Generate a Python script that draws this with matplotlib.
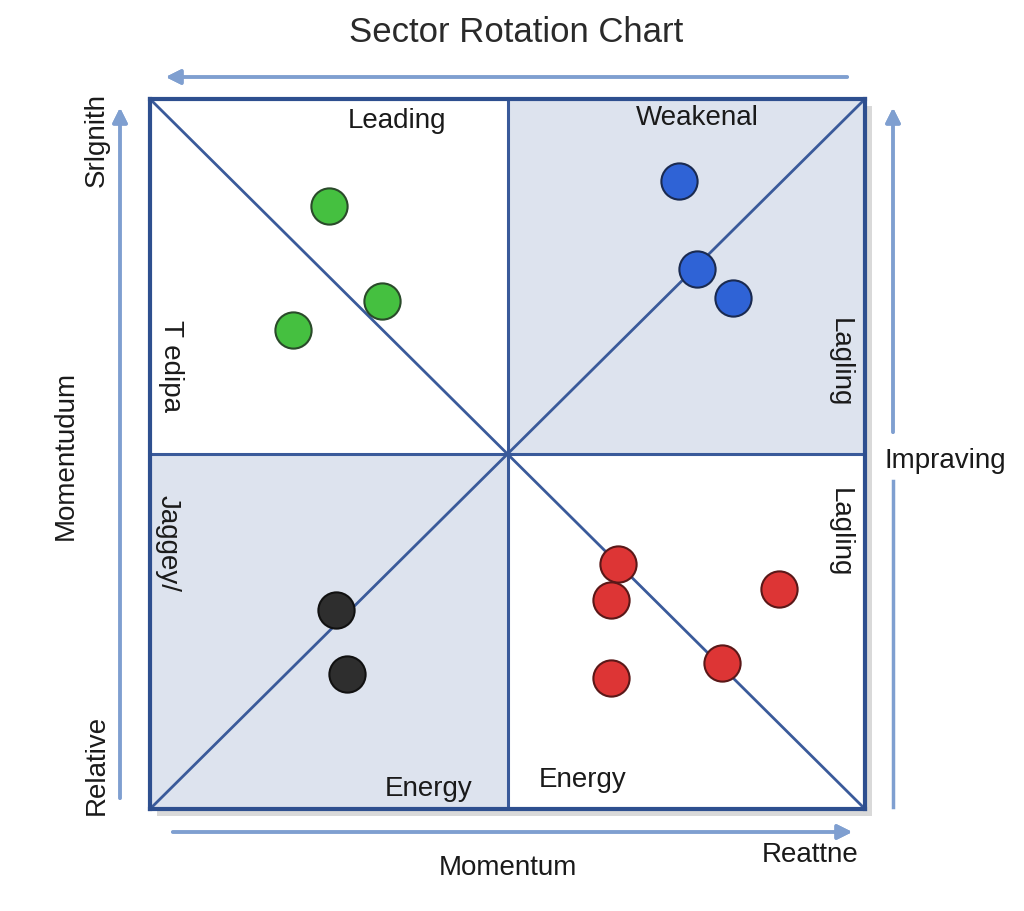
import matplotlib
matplotlib.use("Agg")
import matplotlib.pyplot as plt
from matplotlib.patches import Rectangle

plt.rcParams['font.family'] = ['Liberation Sans', 'DejaVu Sans']

# sector positions (relative strength, momentum)
green_x = [-0.50, -0.35, -0.60]
green_y = [0.70, 0.43, 0.35]
blue_x = [0.48, 0.53, 0.63]
blue_y = [0.77, 0.52, 0.44]
black_x = [-0.48, -0.45]
black_y = [-0.44, -0.62]
red_x = [0.31, 0.29, 0.76, 0.60, 0.29]
red_y = [-0.31, -0.41, -0.38, -0.59, -0.63]

W, H = 1024, 912
fig = plt.figure(figsize=(W / 100, H / 100), dpi=100)
fig.patch.set_facecolor('white')

def fx(px):
    return px / W

def fy(py):
    return 1 - py / H

# light shadow behind the square
fig.patches.append(Rectangle((fx(157), fy(817)), 715 / W, 710 / H, transform=fig.transFigure,
                             facecolor='#d9d9d9', edgecolor='none', zorder=-5))

ax = fig.add_axes([fx(150), fy(810), 715 / W, 710 / H])
ax.set_zorder(2)
ax.set_xlim(-1, 1)
ax.set_ylim(-1, 1)
ax.set_facecolor('white')

shade = '#dde3ee'
line_c = '#3a5a9a'
ax.add_patch(Rectangle((0, 0), 1, 1, facecolor=shade, edgecolor='none', zorder=0))
ax.add_patch(Rectangle((-1, -1), 1, 1, facecolor=shade, edgecolor='none', zorder=0))
ax.plot([-1, 1], [1, -1], color=line_c, lw=2, zorder=1)
ax.plot([-1, 1], [-1, 1], color=line_c, lw=2, zorder=1)
ax.axhline(0, color=line_c, lw=2.2, zorder=1)
ax.axvline(0, color=line_c, lw=2.2, zorder=1)
for s in ax.spines.values():
    s.set_color('#2e4f8f')
    s.set_linewidth(3)
ax.set_xticks([])
ax.set_yticks([])

ms = 680
ax.scatter(green_x, green_y, s=ms, color='#45c040', edgecolor='#2a4a2a', lw=1.5, zorder=3)
ax.scatter(blue_x, blue_y, s=ms, color='#2f63d6', edgecolor='#1a2a50', lw=1.5, zorder=3)
ax.scatter(black_x, black_y, s=ms, color='#2e2e2e', edgecolor='#111111', lw=1.5, zorder=3)
ax.scatter(red_x, red_y, s=ms, color='#dd3535', edgecolor='#5a1818', lw=1.5, zorder=3)

# quadrant labels
tc = '#1a1a1a'
fs = 20
ax.text(-0.31, 0.94, 'Leading', ha='center', va='center', fontsize=fs, color=tc)
ax.text(0.53, 0.95, 'Weakenal', ha='center', va='center', fontsize=fs, color=tc)
ax.text(-0.22, -0.94, 'Energy', ha='center', va='center', fontsize=fs, color=tc)
ax.text(0.21, -0.915, 'Energy', ha='center', va='center', fontsize=fs, color=tc)
ax.text(0.93, 0.26, 'Lagling', ha='center', va='center', fontsize=fs, color=tc, rotation=-90)
ax.text(0.93, -0.22, 'Lagling', ha='center', va='center', fontsize=fs, color=tc, rotation=-90)
ax.text(-0.94, 0.25, 'T edipa', ha='center', va='center', fontsize=fs, color=tc, rotation=-90)
ax.text(-0.95, -0.25, 'Jaggey/', ha='center', va='center', fontsize=fs, color=tc, rotation=-90)

# title and outer labels
fig.text(fx(516), fy(33), 'Sector Rotation Chart', ha='center', va='center', fontsize=25, color='#2a2a2a')
fig.text(fx(508), fy(868), 'Momentum', ha='center', va='center', fontsize=fs, color=tc)
fig.text(fx(810), fy(855), 'Reattne', ha='center', va='center', fontsize=fs, color=tc)
fig.text(fx(66), fy(455), 'Momentudum', ha='center', va='center', fontsize=fs, color=tc, rotation=90)
fig.text(fx(97), fy(140), 'Srlgnith', ha='center', va='center', fontsize=fs, color=tc, rotation=90)
fig.text(fx(97), fy(765), 'Relative', ha='center', va='center', fontsize=fs, color=tc, rotation=90)
fig.text(fx(945), fy(461), 'Impraving', ha='center', va='center', fontsize=fs, color=tc)

# outer arrows
arr_c = '#7f9fd0'
aprops = dict(arrowstyle='-|>', color=arr_c, lw=2.5, mutation_scale=22)
fig.add_artist(plt.annotate('', xy=(fx(163), fy(78)), xytext=(fx(850), fy(78)),
                            xycoords='figure fraction', arrowprops=aprops))
fig.add_artist(plt.annotate('', xy=(fx(855), fy(833)), xytext=(fx(170), fy(833)),
                            xycoords='figure fraction', arrowprops=aprops))
fig.add_artist(plt.annotate('', xy=(fx(120), fy(106)), xytext=(fx(120), fy(802)),
                            xycoords='figure fraction', arrowprops=aprops))
fig.add_artist(plt.annotate('', xy=(fx(893), fy(106)), xytext=(fx(893), fy(436)),
                            xycoords='figure fraction', arrowprops=aprops))
fig.lines.append(plt.Line2D([fx(893), fx(893)], [fy(482), fy(808)], transform=fig.transFigure,
                            color=arr_c, lw=2.5))

fig.savefig('out.png', dpi=100)
